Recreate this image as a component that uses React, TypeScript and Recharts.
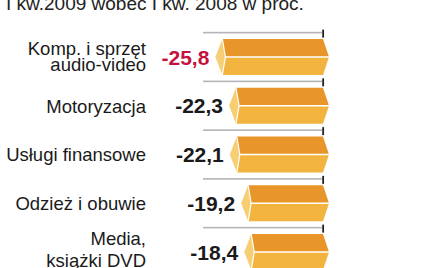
import { BarChart, Bar, XAxis, YAxis, LabelList } from 'recharts';

const categories = [
  ['Komp. i sprzęt', 'audio-video'],
  ['Motoryzacja'],
  ['Usługi finansowe'],
  ['Odzież i obuwie'],
  ['Media,', 'książki DVD'],
];
const values = [-25.8, -22.3, -22.1, -19.2, -18.4];
const valueLabels = ['-25,8', '-22,3', '-22,1', '-19,2', '-18,4'];
const title = 'I kw.2009 wobec I kw. 2008 w proc.';

const data = categories.map((lines, i) => ({
  name: lines.join(' '),
  value: values[i],
  label: valueLabels[i],
}));

const FONT = '"Liberation Sans", Arial, sans-serif';
const DARK = '#e8962a';
const LIGHT = '#f2b43f';
const CAP = '#f6cf74';

const W = 439;
const H = 290;
const MARGIN = { top: 33, right: 116, bottom: 13.25, left: 0 };
const AXIS_W = 206;
const TICK_MARGIN = 60;
const BAND = (H - MARGIN.top - MARGIN.bottom) / categories.length;

// baseline offsets for two-line category labels
const lineOffsets: Record<number, number[]> = {
  0: [-2, 14],
  4: [-7, 15],
};

function CategoryTick(props: any) {
  const { x, y, index } = props;
  const lines = categories[index] || [];
  const offs = lines.length > 1 ? lineOffsets[index] || [-2, 14] : [6.5];
  return (
    <g>
      {lines.map((t, i) => (
        <text
          key={i}
          x={x}
          y={y + offs[i]}
          textAnchor="end"
          fontFamily={FONT}
          fontSize={18.5}
          fill="#1a1a1a"
        >
          {t}
        </text>
      ))}
    </g>
  );
}

function Prism(props: any) {
  const { x, y, width, height } = props;
  const left = Math.min(x, x + width);
  const right = Math.max(x, x + width);
  const top = y;
  const bot = y + height;
  const mid = y + height / 2;
  const tip = left - 7;
  // separator at the start of this bar's band, with a short tick at zero
  const sepY = top - (BAND - height) / 2;
  return (
    <g>
      <rect x={AXIS_W - 3} y={sepY - 0.8} width={right - AXIS_W + 2} height={1.6} fill="#b4b4b4" />
      <rect x={right - 0.75} y={sepY - 3} width={1.8} height={8} fill="#222" />
      <polygon points={`${tip},${mid} ${left},${top} ${left + 3},${mid} ${left},${bot}`} fill={CAP} />
      <polygon points={`${left},${top} ${right},${top} ${right + 6},${mid} ${left + 3},${mid}`} fill={DARK} />
      <polygon points={`${left + 3},${mid} ${right + 6},${mid} ${right},${bot} ${left},${bot}`} fill={LIGHT} />
      <polyline
        points={`${left},${top} ${left + 3},${mid} ${left},${bot}`}
        fill="none"
        stroke="#fff"
        strokeWidth={1.2}
      />
      <line x1={left + 3} y1={mid} x2={right + 6} y2={mid} stroke="#fff" strokeWidth={1.5} />
    </g>
  );
}

function ValueLabel(props: any) {
  const { x, y, width, height, index } = props;
  const left = Math.min(x, x + width);
  return (
    <text
      x={left - 13}
      y={y + height / 2 + 7.5}
      textAnchor="end"
      fontFamily={FONT}
      fontWeight="bold"
      fontSize={21}
      fill={index === 0 ? '#c4123f' : '#1a1a1a'}
    >
      {valueLabels[index]}
    </text>
  );
}

export default function App() {
  return (
    <div style={{ position: 'absolute', left: 0, top: 0, width: W, height: 268, overflow: 'hidden', background: '#fff' }}>
      <svg width={W} height={20} style={{ position: 'absolute', left: 0, top: 0 }}>
        <text x={6} y={9.5} fontFamily={FONT} fontSize={19} fill="#222">
          {title}
        </text>
      </svg>
      <div style={{ position: 'absolute', left: 0, top: 0 }}>
        <BarChart width={W} height={H} data={data} layout="vertical" margin={MARGIN}>
          <XAxis type="number" domain={[-30, 0]} hide />
          <YAxis
            type="category"
            dataKey="name"
            width={AXIS_W}
            axisLine={false}
            tickLine={false}
            tickSize={0}
            tickMargin={TICK_MARGIN}
            interval={0}
            tick={<CategoryTick />}
          />
          <Bar dataKey="value" barSize={36} isAnimationActive={false} shape={(p: any) => <Prism {...p} />}>
            <LabelList dataKey="label" content={(p: any) => <ValueLabel {...p} />} />
          </Bar>
        </BarChart>
      </div>
    </div>
  );
}
